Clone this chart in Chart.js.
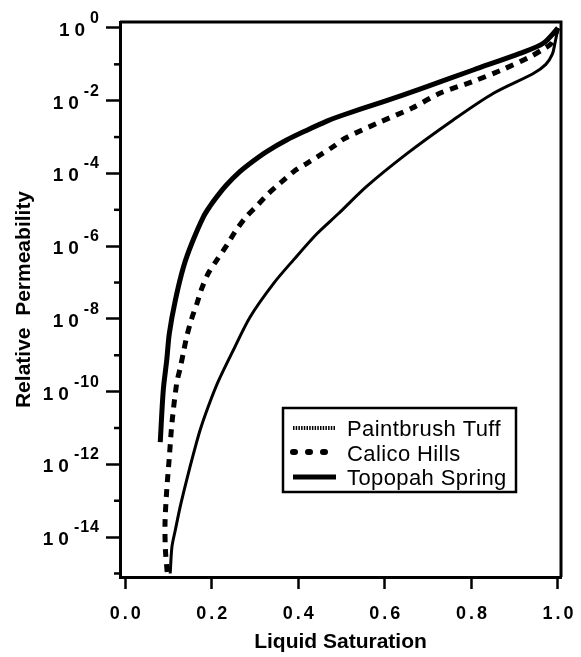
<!DOCTYPE html>
<html lang="en">
<head>
<meta charset="UTF-8">
<title>Relative Permeability</title>
<style>
  body { margin: 0; background: #fff; }
  #wrap { position: relative; width: 581px; height: 657px; }
</style>
<script src="https://cdn.jsdelivr.net/npm/chart.js"></script>
</head>
<body>
<div id="wrap"><canvas id="myChart"></canvas></div>
<script>
// values (liquid saturation vs relative permeability)
const paintbrushSat = [0.104, 0.108, 0.116, 0.127, 0.142, 0.158, 0.173, 0.192, 0.214, 0.250, 0.289, 0.343, 0.389, 0.443, 0.493, 0.558, 0.651, 0.758, 0.851, 0.943, 0.972, 0.987, 0.993, 1.0];
const paintbrushPerm = [1.0e-15, 5.4e-15, 1.6e-14, 6.8e-14, 3.7e-13, 2.0e-12, 8.7e-12, 3.9e-11, 1.8e-10, 1.4e-9, 1.15e-8, 9.5e-8, 4.2e-7, 2.2e-6, 7.9e-6, 4.4e-5, 3.5e-4, 2.95e-3, 1.6e-2, 5.6e-2, 0.10, 0.19, 0.38, 1.0];

const calicoSat = [0.097, 0.093, 0.092, 0.096, 0.102, 0.108, 0.119, 0.127, 0.135, 0.142, 0.154, 0.166, 0.177, 0.192, 0.212, 0.235, 0.254, 0.277, 0.306, 0.331, 0.358, 0.389, 0.420, 0.450, 0.481, 0.508, 0.589, 0.662, 0.727, 0.801, 0.870, 0.935, 0.970, 0.985, 1.0];
const calicoPerm = [1.1e-15, 4.4e-15, 2.4e-14, 1.95e-13, 1.6e-12, 1.35e-11, 1.7e-10, 4.4e-10, 1.26e-9, 3.2e-9, 1.05e-8, 2.7e-8, 6.9e-8, 1.8e-7, 4.2e-7, 1.07e-6, 2.5e-6, 5.9e-6, 1.35e-5, 2.8e-5, 5.4e-5, 1.12e-4, 1.9e-4, 3.2e-4, 5.5e-4, 9.3e-4, 2.6e-3, 6.2e-3, 1.6e-2, 3.3e-2, 7.0e-2, 0.16, 0.28, 0.38, 1.0];

const topopahSat = [0.081, 0.088, 0.096, 0.102, 0.116, 0.135, 0.154, 0.181, 0.196, 0.212, 0.234, 0.265, 0.296, 0.327, 0.373, 0.420, 0.466, 0.497, 0.597, 0.689, 0.804, 0.912, 0.966, 1.0];
const topopahPerm = [4.1e-12, 1.1e-10, 7.4e-10, 4.0e-9, 3.3e-8, 2.75e-7, 1.2e-6, 6.5e-6, 1.26e-5, 2.3e-5, 4.8e-5, 1.12e-4, 2.2e-4, 4.0e-4, 8.3e-4, 1.55e-3, 2.75e-3, 3.8e-3, 9.5e-3, 2.25e-2, 7.0e-2, 0.20, 0.38, 1.0];

// axis ticks
const xTicks = [0, 0.2, 0.4, 0.6, 0.8, 1.0];
const xTickLabels = ['0.0', '0.2', '0.4', '0.6', '0.8', '1.0'];
const yMajorTicks = [1e0, 1e-2, 1e-4, 1e-6, 1e-8, 1e-10, 1e-12, 1e-14];
const yMajorExps = ['0', '-2', '-4', '-6', '-8', '-10', '-12', '-14'];
const yMinorTicks = [1e-1, 1e-3, 1e-5, 1e-7, 1e-9, 1e-11, 1e-13, 1e-15];

const FONT = '"Liberation Sans", Arial, Helvetica, sans-serif';

function pts(xs, ys) {
    return xs.map((x, i) => ({ x: x, y: ys[i] }));
}

// tick labels, minor ticks, frame and legend
const decorPlugin = {
    id: 'decor',
    afterDraw(chart) {
        const { ctx, chartArea, scales } = chart;
        const xs = scales.x, ys = scales.y;
        ctx.save();
        ctx.fillStyle = '#000';
        ctx.strokeStyle = '#000';

        // minor y ticks
        ctx.lineWidth = 2.5;
        yMinorTicks.forEach(v => {
            const py = ys.getPixelForValue(v);
            ctx.beginPath();
            ctx.moveTo(chartArea.left - 6, py);
            ctx.lineTo(chartArea.left, py);
            ctx.stroke();
        });

        // top and right frame
        ctx.lineWidth = 3;
        ctx.beginPath();
        ctx.moveTo(chartArea.left, chartArea.top);
        ctx.lineTo(chartArea.right, chartArea.top);
        ctx.lineTo(chartArea.right, chartArea.bottom);
        ctx.stroke();

        // x tick labels
        ctx.textAlign = 'left';
        ctx.textBaseline = 'alphabetic';
        ctx.font = 'bold 18px ' + FONT;
        ctx.letterSpacing = '3px';
        xTicks.forEach((v, i) => {
            const t = xTickLabels[i];
            const w = ctx.measureText(t).width - 3;
            ctx.fillText(t, xs.getPixelForValue(v) - w / 2, chartArea.bottom + 42);
        });

        // y tick labels: 10 with exponent
        yMajorTicks.forEach((v, i) => {
            const py = ys.getPixelForValue(v);
            const ex = yMajorExps[i];
            ctx.font = 'bold 16px ' + FONT;
            ctx.letterSpacing = '1px';
            const ew = ctx.measureText(ex).width - 1;
            const exX = chartArea.left - 21 - ew;
            ctx.fillText(ex, exX, py - 5);
            ctx.font = 'bold 19px ' + FONT;
            ctx.letterSpacing = '5px';
            const bw = ctx.measureText('10').width - 5;
            ctx.fillText('10', exX - 5 - bw, py + 8);
        });

        // legend
        const lx = 283, ly = 408, lw = 233, lh = 84;
        ctx.letterSpacing = '0px';
        ctx.lineWidth = 2.5;
        ctx.strokeRect(lx, ly, lw, lh);
        const rows = [428, 452, 477];
        const baselines = [436, 461, 485];
        const legendDash = [[1.5, 1.2], [2, 13], []];
        const legendWidth = [4, 6, 5];
        const legendCap = ['butt', 'round', 'butt'];
        chart.data.datasets.forEach((ds, i) => {
            ctx.save();
            ctx.lineWidth = legendWidth[i];
            ctx.setLineDash(legendDash[i]);
            ctx.lineCap = legendCap[i];
            ctx.beginPath();
            ctx.moveTo(lx + 10, rows[i]);
            ctx.lineTo(lx + 53, rows[i]);
            ctx.stroke();
            ctx.restore();
            ctx.font = '22px ' + FONT;
            ctx.letterSpacing = '0.4px';
            ctx.fillText(ds.label, lx + 64, baselines[i]);
        });
        ctx.letterSpacing = '0px';
        ctx.restore();
    }
};

const ctx = document.getElementById('myChart').getContext('2d');
const myChart = new Chart(ctx, {
    type: 'line',
    data: {
        datasets: [
            {
                label: 'Paintbrush Tuff',
                data: pts(paintbrushSat, paintbrushPerm),
                borderColor: '#000',
                borderWidth: 3,
                pointRadius: 0,
                tension: 0.3
            },
            {
                label: 'Calico Hills',
                data: pts(calicoSat, calicoPerm),
                borderColor: '#000',
                borderWidth: 5,
                borderDash: [8, 7],
                pointRadius: 0,
                tension: 0.3
            },
            {
                label: 'Topopah Spring',
                data: pts(topopahSat, topopahPerm),
                borderColor: '#000',
                borderWidth: 5,
                pointRadius: 0,
                tension: 0.3
            }
        ]
    },
    options: {
        responsive: true,
        maintainAspectRatio: false,
        animation: false,
        layout: { padding: { top: 22, right: 20, left: 0, bottom: 0 } },
        plugins: {
            legend: { display: false },
            tooltip: { enabled: false }
        },
        scales: {
            x: {
                type: 'linear',
                min: -0.012,
                max: 1.007,
                afterBuildTicks: s => { s.ticks = xTicks.map(v => ({ value: v })); },
                afterFit: s => { s.height = 80; },
                ticks: { display: false },
                grid: { display: true, drawOnChartArea: false, drawTicks: true, tickLength: 12, tickWidth: 2.5, tickColor: '#000' },
                border: { display: true, color: '#000', width: 3 },
                title: {
                    display: true,
                    text: 'Liquid Saturation',
                    color: '#000',
                    font: { family: FONT, size: 21, weight: 'bold' },
                    padding: { top: 0, bottom: 2 }
                }
            },
            y: {
                type: 'logarithmic',
                min: 8e-16,
                max: 1.46,
                afterBuildTicks: s => { s.ticks = yMajorTicks.map(v => ({ value: v, major: true })); },
                afterFit: s => { s.width = 120; },
                ticks: { display: false },
                grid: { display: true, drawOnChartArea: false, drawTicks: true, tickLength: 14, tickWidth: 2.5, tickColor: '#000' },
                border: { display: true, color: '#000', width: 3 },
                title: {
                    display: true,
                    text: 'Relative  Permeability',
                    color: '#000',
                    font: { family: FONT, size: 21, weight: 'bold' },
                    padding: { top: 12, bottom: 0 }
                }
            }
        }
    },
    plugins: [decorPlugin]
});
</script>
</body>
</html>
